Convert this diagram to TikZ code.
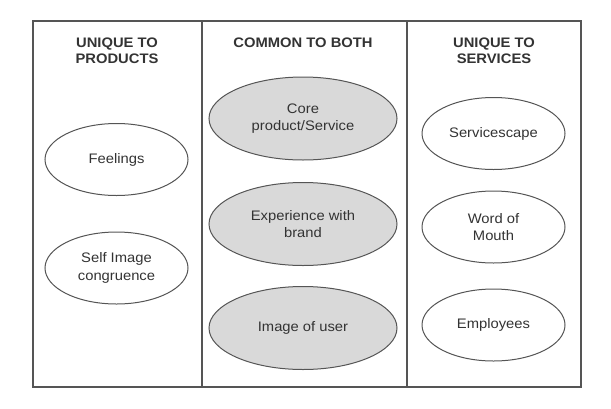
\documentclass[tikz,border=0pt]{standalone}
\usepackage{fontspec}
\setmainfont[FakeStretch=1.07]{Liberation Sans}
\usetikzlibrary{shapes.geometric}
\definecolor{linegray}{HTML}{555555}
\definecolor{fillgray}{HTML}{D9D9D9}
\definecolor{textgray}{HTML}{333333}
\begin{document}
\begin{tikzpicture}[x=1pt,y=-1pt,
  frame/.style={draw=linegray,line width=1.4pt},
  head/.style={text=textgray,align=center,font=\fontsize{13.8}{16}\selectfont\bfseries},
  oval/.style={ellipse,draw=linegray,line width=1pt,inner sep=0pt,align=center,text=textgray,font=\fontsize{13.8}{17.5}\selectfont},
  small/.style={oval,fill=white,minimum width=143pt,minimum height=72pt},
  big/.style={oval,fill=fillgray,minimum width=188pt,minimum height=83pt}]
\useasboundingbox (0,0) rectangle (611,408);
\coordinate (tl) at (33,21);
\coordinate (br) at (581,387);
\coordinate (d1t) at (202,21);
\coordinate (d1b) at (202,387);
\coordinate (d2t) at (407,21);
\coordinate (d2b) at (407,387);
\draw[frame] (tl) rectangle (br);
\draw[frame] (d1t) -- (d1b);
\draw[frame] (d2t) -- (d2b);
\node[head] (h1) at (117,51) {UNIQUE TO\\PRODUCTS};
\node[head] (h2) at (303,43) {COMMON TO BOTH};
\node[head] (h3) at (494,51) {UNIQUE TO\\SERVICES};
\node[small] (feel) at (116.5,159.5) {Feelings};
\node[small] (self) at (116.5,268) {Self Image\\congruence};
\node[big] (core) at (303,118.5) {Core\\product/Service};
\node[big] (exp) at (303,224) {Experience with\\brand};
\node[big] (img) at (303,328) {Image of user};
\node[small] (scape) at (493.5,133.5) {Servicescape};
\node[small] (wom) at (493.5,227) {Word of\\Mouth};
\node[small] (emp) at (493.5,325) {Employees};
\end{tikzpicture}
\end{document}
